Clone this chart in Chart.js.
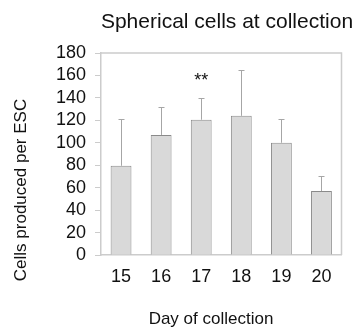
<!DOCTYPE html>
<html>
<head>
<meta charset="utf-8">
<script src="https://cdn.jsdelivr.net/npm/chart.js@4"></script>
<style>
html,body{margin:0;padding:0;background:#fff;}
#wrap{width:356px;height:330px;position:relative;}
</style>
</head>
<body>
<div id="wrap"><canvas id="c" width="356" height="330"></canvas></div>
<script>
const days = ["15", "16", "17", "18", "19", "20"];
const cellsPerESC = [79.5, 107, 120.5, 124, 100, 57];
const sdUpper = [42, 25, 19.5, 41, 21.5, 13];
const significance = ["", "", "**", "", "", ""];
const yTicks = [0, 20, 40, 60, 80, 100, 120, 140, 160, 180];
const titleText = "Spherical cells at collection";
const xTitleText = "Day of collection";
const yTitleText = "Cells produced per ESC";

const FONT = "'Liberation Sans', Arial, sans-serif";
const AXIS_COLOR = "#cccccc";

const extras = {
  id: "extras",
  afterDatasetsDraw(chart) {
    const ctx = chart.ctx;
    const xs = chart.scales.x, ys = chart.scales.y;
    const ca = chart.chartArea;
    ctx.save();
    ctx.strokeStyle = AXIS_COLOR;
    ctx.lineWidth = 1.5;
    ctx.beginPath();
    ctx.moveTo(ca.left, ca.top);
    ctx.lineTo(ca.right, ca.top);
    ctx.lineTo(ca.right, ca.bottom);
    ctx.stroke();
    ctx.strokeStyle = "#a6a6a6";
    ctx.lineWidth = 1;
    cellsPerESC.forEach((v, i) => {
      const x = Math.round(xs.getPixelForValue(i)) + 0.5;
      const y0 = ys.getPixelForValue(v);
      const y1 = Math.round(ys.getPixelForValue(v + sdUpper[i])) + 0.5;
      ctx.beginPath();
      ctx.moveTo(x, y0);
      ctx.lineTo(x, y1);
      ctx.moveTo(x - 3, y1);
      ctx.lineTo(x + 3, y1);
      ctx.stroke();
    });
    ctx.fillStyle = "#111";
    ctx.font = "18px " + FONT;
    ctx.textAlign = "center";
    ctx.textBaseline = "alphabetic";
    significance.forEach((s, i) => {
      if (!s) return;
      const x = xs.getPixelForValue(i);
      const y = ys.getPixelForValue(160);
      ctx.fillText(s, x, y + 0.58 * 18);
    });
    ctx.font = "21px " + FONT;
    ctx.textBaseline = "middle";
    ctx.fillText(titleText, 227, 22);
    ctx.font = "17px " + FONT;
    ctx.fillText(xTitleText, 211, 319);
    ctx.translate(21, 190);
    ctx.rotate(-Math.PI / 2);
    ctx.fillText(yTitleText, 0, 0);
    ctx.restore();
  }
};

new Chart(document.getElementById("c"), {
  type: "bar",
  data: {
    labels: days,
    datasets: [{
      data: cellsPerESC,
      backgroundColor: "#d9d9d9",
      borderColor: "#8a8a8a",
      borderWidth: 1,
      barPercentage: 0.52,
      categoryPercentage: 1
    }]
  },
  options: {
    responsive: false,
    animation: false,
    devicePixelRatio: 1,
    layout: { padding: { top: 53, right: 14.5, left: 0, bottom: 0 } },
    plugins: { legend: { display: false }, title: { display: false }, tooltip: { enabled: false } },
    scales: {
      x: {
        afterFit(s) { s.height = 75; },
        grid: { display: false, drawTicks: false },
        border: { display: true, color: AXIS_COLOR, width: 1.5 },
        ticks: { color: "#111", font: { family: FONT, size: 18 }, padding: 11, maxRotation: 0, autoSkip: false }
      },
      y: {
        min: 0, max: 180,
        afterFit(s) { s.width = 101; },
        afterBuildTicks(s) { s.ticks = yTicks.map(v => ({ value: v })); },
        grid: { drawOnChartArea: false, drawTicks: true, tickLength: 6, color: AXIS_COLOR },
        border: { display: true, color: AXIS_COLOR, width: 1.5 },
        ticks: { color: "#111", font: { family: FONT, size: 18 }, padding: 9, autoSkip: false }
      }
    }
  },
  plugins: [extras]
});
</script>
</body>
</html>
